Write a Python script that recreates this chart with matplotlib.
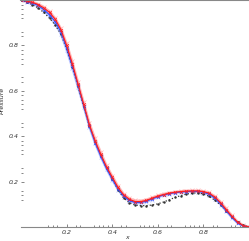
import matplotlib.pyplot as plt
import numpy as np

# sample positions
x = np.arange(0, 1.0001, 0.025)

# pressure profiles
p_red = [1.00, 0.995, 0.99, 0.98, 0.965, 0.945, 0.915, 0.87, 0.80, 0.72,
         0.63, 0.54, 0.45, 0.38, 0.32, 0.265, 0.22, 0.175, 0.142, 0.122,
         0.112, 0.112, 0.117, 0.127, 0.136, 0.143, 0.149, 0.153, 0.156, 0.158,
         0.159, 0.159, 0.156, 0.149, 0.132, 0.107, 0.077, 0.047, 0.021, 0.006, 0.0]
p_blue = [1.00, 0.993, 0.987, 0.976, 0.958, 0.935, 0.905, 0.86, 0.79, 0.71,
          0.625, 0.535, 0.445, 0.372, 0.312, 0.258, 0.212, 0.168, 0.136, 0.117,
          0.108, 0.108, 0.114, 0.124, 0.133, 0.141, 0.147, 0.151, 0.154, 0.156,
          0.157, 0.157, 0.153, 0.145, 0.127, 0.102, 0.072, 0.043, 0.018, 0.004, 0.0]
p_pink = [1.00, 0.997, 0.992, 0.983, 0.97, 0.95, 0.92, 0.875, 0.81, 0.73,
          0.64, 0.55, 0.46, 0.39, 0.33, 0.272, 0.226, 0.182, 0.147, 0.127,
          0.117, 0.116, 0.121, 0.13, 0.139, 0.146, 0.151, 0.155, 0.158, 0.16,
          0.161, 0.161, 0.158, 0.152, 0.136, 0.112, 0.082, 0.051, 0.024, 0.008, 0.0]
p_lblue = [1.00, 0.992, 0.984, 0.972, 0.952, 0.928, 0.895, 0.85, 0.78, 0.70,
           0.615, 0.53, 0.44, 0.368, 0.308, 0.255, 0.208, 0.165, 0.132, 0.114,
           0.105, 0.105, 0.111, 0.121, 0.131, 0.139, 0.145, 0.15, 0.153, 0.155,
           0.156, 0.155, 0.151, 0.142, 0.124, 0.099, 0.07, 0.041, 0.017, 0.004, 0.0]
p_black = [1.00, 0.99, 0.98, 0.965, 0.945, 0.92, 0.89, 0.85, 0.785, 0.705,
           0.62, 0.53, 0.445, 0.375, 0.315, 0.26, 0.212, 0.165, 0.128, 0.107,
           0.097, 0.094, 0.094, 0.097, 0.102, 0.11, 0.12, 0.13, 0.138, 0.145,
           0.149, 0.15, 0.146, 0.135, 0.118, 0.097, 0.072, 0.046, 0.022, 0.007, 0.0]

y_major = [0.2, 0.4, 0.6, 0.8]
x_major = [0.2, 0.4, 0.6, 0.8]
minor_offsets = [-0.08, -0.06, -0.04, 0.04, 0.06, 0.12, 0.14, 0.16, 0.18]

fig = plt.figure(figsize=(2.49, 2.41), dpi=100)
ax = fig.add_axes([21 / 249, 14 / 241, 228 / 249, 227 / 241])

ax.plot(x, p_lblue, ls="-", lw=1.6, marker="x", ms=2.5, mew=0.5, color="#a8b4ff", alpha=0.8)
ax.plot(x, p_pink, ls="-", lw=1.6, marker="x", ms=2.5, mew=0.5, color="#ffa8a8", alpha=0.8)
ax.plot(x, p_black, ls=":", lw=0.9, marker=".", ms=1.5, color="#333333")
ax.plot(x, p_blue, ls="-", lw=0.9, marker="x", ms=2, mew=0.5, color="#3050ff")
ax.plot(x, p_red, ls="-", lw=0.9, marker="x", ms=2, mew=0.5, color="#ff2020")

ax.set_xlim(0, 1.0)
ax.set_ylim(0, 1.0)

minor = sorted({round(m + o, 3) for m in [0.2, 0.4, 0.6, 0.8, 1.0] for o in minor_offsets
                if 0.01 < m + o < 0.99})
ax.set_xticks(x_major)
ax.set_yticks(y_major)
ax.set_xticks(minor, minor=True)
ax.set_yticks(minor, minor=True)
ax.set_xticklabels([f"{v:.1f}" for v in x_major], fontsize=4.5, style="italic", color="#333333")
ax.set_yticklabels([f"{v:.1f}" for v in y_major], fontsize=4.5, style="italic", color="#333333")
ax.tick_params(which="both", direction="in", length=2, width=0.5, color="#555555", pad=2)
ax.tick_params(which="minor", length=1.5)

ax.spines["left"].set_visible(False)
ax.spines["right"].set_visible(False)
ax.spines["top"].set_color("#888888")
ax.spines["top"].set_linewidth(1.5)
ax.spines["bottom"].set_color("#888888")
ax.spines["bottom"].set_linewidth(0.8)

ax.set_xlabel("x", fontsize=4.5, style="italic", color="#333333")
ax.xaxis.set_label_coords(0.465, -0.035)
ax.set_ylabel("Pressure", fontsize=4.5, style="italic", color="#333333")
ax.yaxis.set_label_coords(-0.07, 0.56)

fig.savefig("out.png", dpi=100)
